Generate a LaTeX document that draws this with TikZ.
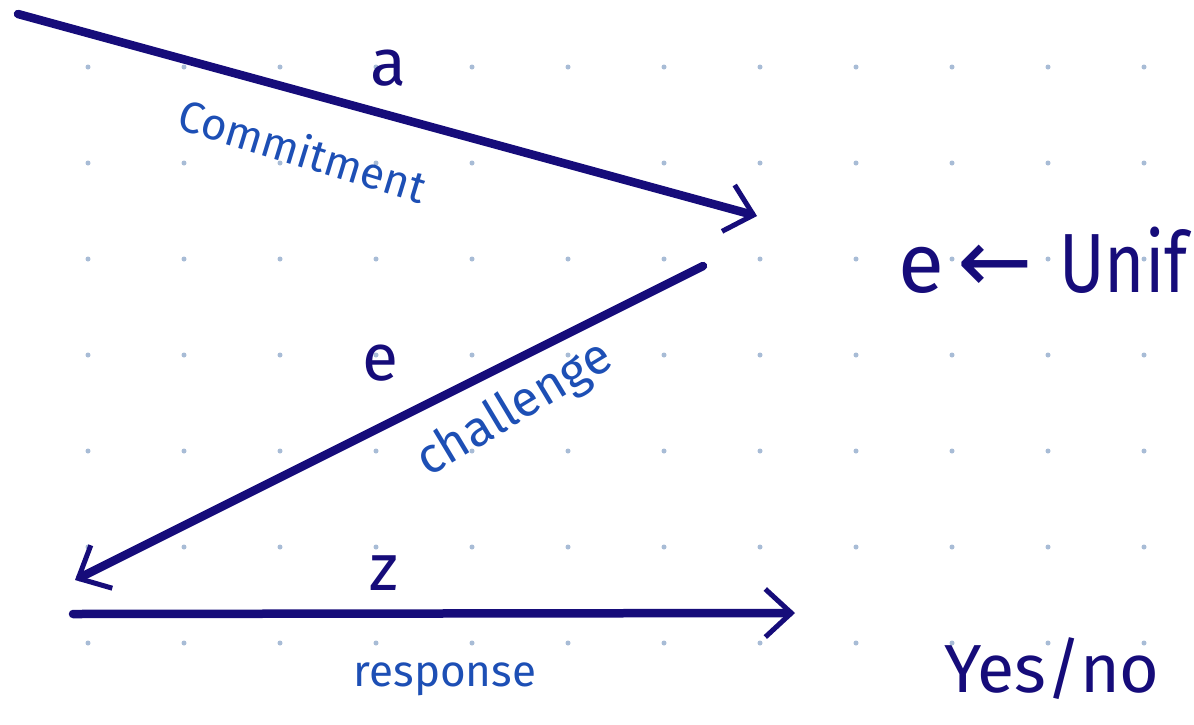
\documentclass[tikz,border=0pt]{standalone}
\usepackage{fontspec}
\usepackage{graphicx}
\setmainfont{Fira Sans}
\newfontfamily\symfont{DejaVu Sans}
\usetikzlibrary{arrows.meta}
\definecolor{ink}{HTML}{160C7A}
\definecolor{pen}{HTML}{1D4FB5}
\definecolor{gdot}{HTML}{A8BCD6}
\begin{document}
\begin{tikzpicture}[x=1pt,y=-1pt,
  stroke/.style={draw=ink, line width=8.5pt, line cap=round,
    -{Straight Barb[length=26pt,width=48pt,line width=5pt]}},
  lbl/.style={text=ink, inner sep=0pt, anchor=base},
  note/.style={text=pen, inner sep=0pt}]
\useasboundingbox (0,0) rectangle (1194,724);
\clip (0,0) rectangle (1194,724);
\fill[white] (0,0) rectangle (1194,724);
\foreach \i in {0,...,11}
  \foreach \j in {0,...,6}
    \fill[gdot] (88+96*\i, 67+96*\j) circle[radius=2.5pt];
% connectors
\coordinate (c1s) at (18,14);   \coordinate (c1e) at (757,216);
\coordinate (c2s) at (703,266); \coordinate (c2e) at (75,580);
\coordinate (c3s) at (73,614);  \coordinate (c3e) at (795,613);
\draw[stroke] (c1s) -- (c1e);
\draw[stroke] (c2s) -- (c2e);
\draw[stroke] (c3s) -- (c3e);
% labels
\node[lbl, font=\fontsize{66}{66}\selectfont] (la) at (388,85) {a};
\node[note, rotate=-17, font=\fontsize{44}{44}\selectfont] (lcom) at (303,150) {Commitment};
\node[lbl, font=\fontsize{66}{66}\selectfont] (le) at (380,380) {e};
\node[note, rotate=31, font=\fontsize{50}{50}\selectfont] (lch) at (515,410) {challenge};
\node[lbl, font=\fontsize{66}{66}\selectfont] (lz) at (384,590) {z};
\node[note, anchor=base, font=\fontsize{44}{44}\selectfont] (lres) at (445,686) {response};
\node[lbl, anchor=base west, font=\fontsize{84}{84}\selectfont] (lunif) at (898,292)
  {e\kern14pt{\symfont\fontsize{90}{90}\selectfont ←}\kern26pt\scalebox{0.82}[1]{Unif}};
\node[lbl, font=\fontsize{68}{68}\selectfont] (lyes) at (1052,692) {Yes/no};
\end{tikzpicture}
\end{document}
